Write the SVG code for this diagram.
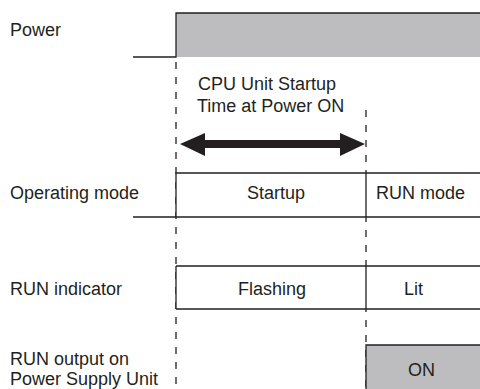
<svg xmlns="http://www.w3.org/2000/svg" width="480" height="389" viewBox="0 0 480 389">
<style>
text{font-family:"Liberation Sans",Arial,sans-serif;font-size:18px;fill:#231f20}
.ln{fill:none;stroke:#231f20;stroke-width:1.3}
.dash{fill:none;stroke:#231f20;stroke-width:1.3;stroke-dasharray:7 8}
.gray{fill:#bdbdbf;stroke:none}
.box{fill:#fff;stroke:none}
</style>
<rect width="480" height="389" fill="#fff"/>
<g id="connectors">
<line class="dash" x1="176" y1="62" x2="176" y2="389"/>
<line class="dash" x1="366" y1="110" x2="366" y2="389"/>
<polygon fill="#231f20" points="180,144 205,133 205,140 340,140 340,133 365,144 340,156 340,148 205,148 205,156"/>
</g>
<g id="power">
<text x="10" y="36">Power</text>
<rect class="gray" x="176" y="13" width="304" height="44"/>
<path class="ln" d="M133,57 H176 V13 H480"/>
</g>
<g id="startup-time">
<text x="198" y="90">CPU Unit Startup</text>
<text x="197" y="112">Time at Power ON</text>
</g>
<g id="operating-mode">
<text x="10" y="199">Operating mode</text>
<rect class="box" x="176" y="173" width="304" height="44"/>
<path class="ln" d="M133,217 H480 M176,217 V173 H480 M366,173 V217"/>
<text x="276" y="199" text-anchor="middle">Startup</text>
<text x="376" y="199">RUN mode</text>
</g>
<g id="run-indicator">
<text x="10" y="295">RUN indicator</text>
<rect class="box" x="176" y="266" width="304" height="43"/>
<path class="ln" d="M176,266 H480 M176,309 H480 M176,266 V309 M366,266 V309"/>
<text x="272" y="295" text-anchor="middle">Flashing</text>
<text x="404" y="295">Lit</text>
</g>
<g id="run-output">
<text x="10" y="365">RUN output on</text>
<text x="10" y="385">Power Supply Unit</text>
<rect class="gray" x="366" y="345" width="114" height="44"/>
<path class="ln" d="M366,389 V345 H480"/>
<text x="408" y="376">ON</text>
</g>
</svg>
